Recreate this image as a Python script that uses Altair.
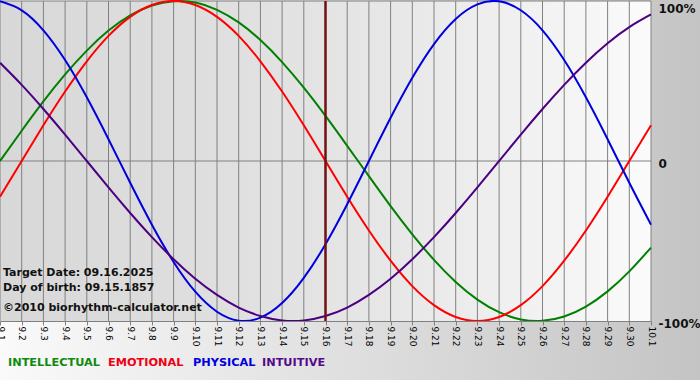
import altair as alt
import pandas as pd

day_labels = ["9.1", "9.2", "9.3", "9.4", "9.5", "9.6", "9.7", "9.8", "9.9", "9.10",
              "9.11", "9.12", "9.13", "9.14", "9.15", "9.16", "9.17", "9.18", "9.19", "9.20",
              "9.21", "9.22", "9.23", "9.24", "9.25", "9.26", "9.27", "9.28", "9.29", "9.30", "10.1"]

intellectual = [0, 18.9, 37.2, 54.1, 69.0, 81.5, 91.0, 97.2, 99.9, 99.0, 94.5, 86.6, 75.6, 61.8, 45.8,
                28.2, 9.5, -9.5, -28.2, -45.8, -61.8, -75.6, -86.6, -94.5, -99.0, -99.9, -97.2, -91.0,
                -81.5, -69.0, -54.1]
emotional = [-22.3, 0, 22.3, 43.4, 62.3, 78.2, 90.1, 97.5, 100, 97.5, 90.1, 78.2, 62.3, 43.4, 22.3,
             0, -22.3, -43.4, -62.3, -78.2, -90.1, -97.5, -100, -97.5, -90.1, -78.2, -62.3, -43.4,
             -22.3, 0, 22.3]
physical = [99.8, 94.2, 81.7, 63.1, 39.8, 13.6, -13.6, -39.8, -63.1, -81.7, -94.2, -99.8, -97.9, -88.8,
            -73.1, -52.0, -27.0, 0, 27.0, 52.0, 73.1, 88.8, 97.9, 99.8, 94.2, 81.7, 63.1, 39.8, 13.6,
            -13.6, -39.8]
intuitive = [61.4, 47.6, 32.5, 16.5, 0, -16.5, -32.5, -47.6, -61.4, -73.6, -83.7, -91.6, -96.9, -99.7,
             -99.7, -96.9, -91.6, -83.7, -73.6, -61.4, -47.6, -32.5, -16.5, 0, 16.5, 32.5, 47.6, 61.4,
             73.6, 83.7, 91.6]

series_names = ["INTELLECTUAL", "EMOTIONAL", "PHYSICAL", "INTUITIVE"]
series_colors = ["#008000", "#ff0000", "#0000dd", "#4b0082"]
legend_colors = ["#108a10", "#ee0010", "#0000dd", "#550a8a"]
today_label = "9.16"
info_lines = ["Target Date: 09.16.2025", "Day of birth: 09.15.1857", "\u00a92010 biorhythm-calculator.net"]

W, H = 651, 320

rows = []
for name, vals in zip(series_names, [intellectual, emotional, physical, intuitive]):
    for d, v in zip(day_labels, vals):
        rows.append({"series": name, "day": d, "value": v})
df = pd.DataFrame(rows)

x_scale = alt.Scale(domain=day_labels, type="point", padding=0)
y_scale = alt.Scale(domain=[-100, 100], nice=False)

x_axis = alt.Axis(title=None, labelAngle=90, labelAlign="left", labelBaseline="middle",
                  labelFontSize=9, labelFont="DejaVu Sans", labelColor="black",
                  tickSize=4, tickColor="#808080", domainColor="#808080", labelPadding=1,
                  grid=False, zindex=1, labelOverlap=False)
y_axis = alt.Axis(orient="right", title=None, values=[-100, 0, 100], ticks=False, domain=False,
                  grid=False, labelFont="DejaVu Sans", labelFontWeight="bold", labelFontSize=12,
                  labelColor="#111111", labelPadding=7, labelOffset=2, zindex=1,
                  labelBaseline={"condition": {"test": "datum.value == 100", "value": "top"}, "value": "middle"},
                  labelExpr="datum.value == 0 ? '0' : datum.value + '%'")

one = pd.DataFrame({"k": [0]})

outer_bg = alt.Chart(one).mark_rect(
    fill=alt.Gradient(gradient="linear", x1=0, x2=1, y1=0, y2=0,
                      stops=[alt.GradientStop(color="#fafafa", offset=0),
                             alt.GradientStop(color="#c4c4c4", offset=1)])
).encode(x=alt.value(0), x2=alt.value(700), y=alt.value(-1), y2=alt.value(379))

plot_bg = alt.Chart(one).mark_rect(
    fill=alt.Gradient(gradient="linear", x1=0, x2=1, y1=0, y2=0,
                      stops=[alt.GradientStop(color="#d8d8d8", offset=0),
                             alt.GradientStop(color="#dedede", offset=0.3),
                             alt.GradientStop(color="#e7e7e7", offset=0.6),
                             alt.GradientStop(color="#f3f3f3", offset=0.85),
                             alt.GradientStop(color="#fbfbfb", offset=1)])
).encode(x=alt.value(0), x2=alt.value(W), y=alt.value(0), y2=alt.value(H))

vgrid = alt.Chart(pd.DataFrame({"day": day_labels})).mark_rule(color="#808080", strokeWidth=1).encode(
    x=alt.X("day:O", scale=x_scale, axis=x_axis))
hgrid = alt.Chart(pd.DataFrame({"v": [100, 0]})).mark_rule(color="#808080", strokeWidth=1).encode(
    y=alt.Y("v:Q", scale=y_scale, axis=y_axis))

lines = alt.Chart(df).mark_line(strokeWidth=2, interpolate="natural").encode(
    x=alt.X("day:O", scale=x_scale, axis=x_axis),
    y=alt.Y("value:Q", scale=y_scale, axis=y_axis),
    color=alt.Color("series:N", scale=alt.Scale(domain=series_names, range=series_colors), legend=None),
)

today = alt.Chart(pd.DataFrame({"day": [today_label]})).mark_rule(color="#701010", strokeWidth=2.5).encode(
    x=alt.X("day:O", scale=x_scale, axis=x_axis))

layers = [outer_bg, plot_bg, vgrid, hgrid, lines, today]

info_y = [275, 290, 310]
for t, yy in zip(info_lines, info_y):
    layers.append(alt.Chart(pd.DataFrame({"t": [t]})).mark_text(
        align="left", baseline="alphabetic", font="DejaVu Sans", fontWeight="bold", fontSize=11,
        color="#111111").encode(x=alt.value(3), y=alt.value(yy), text="t:N"))

legend_x = [8, 108, 193, 262]
for name, col, xx in zip(series_names, legend_colors, legend_x):
    layers.append(alt.Chart(pd.DataFrame({"t": [name]})).mark_text(
        align="left", baseline="alphabetic", font="DejaVu Sans", fontWeight="bold", fontSize=11.3,
        color=col).encode(x=alt.value(xx), y=alt.value(365), text="t:N"))

chart = alt.layer(*layers).properties(
    width=W, height=H,
    padding={"left": 0, "top": 1, "right": 700 - W, "bottom": 380 - H - 1},
    autosize=alt.AutoSizeParams(type="none"),
    background="#e4e4e4",
).configure_view(stroke=None)

chart.save("out.html", embed_options={"renderer": "svg", "actions": False})
